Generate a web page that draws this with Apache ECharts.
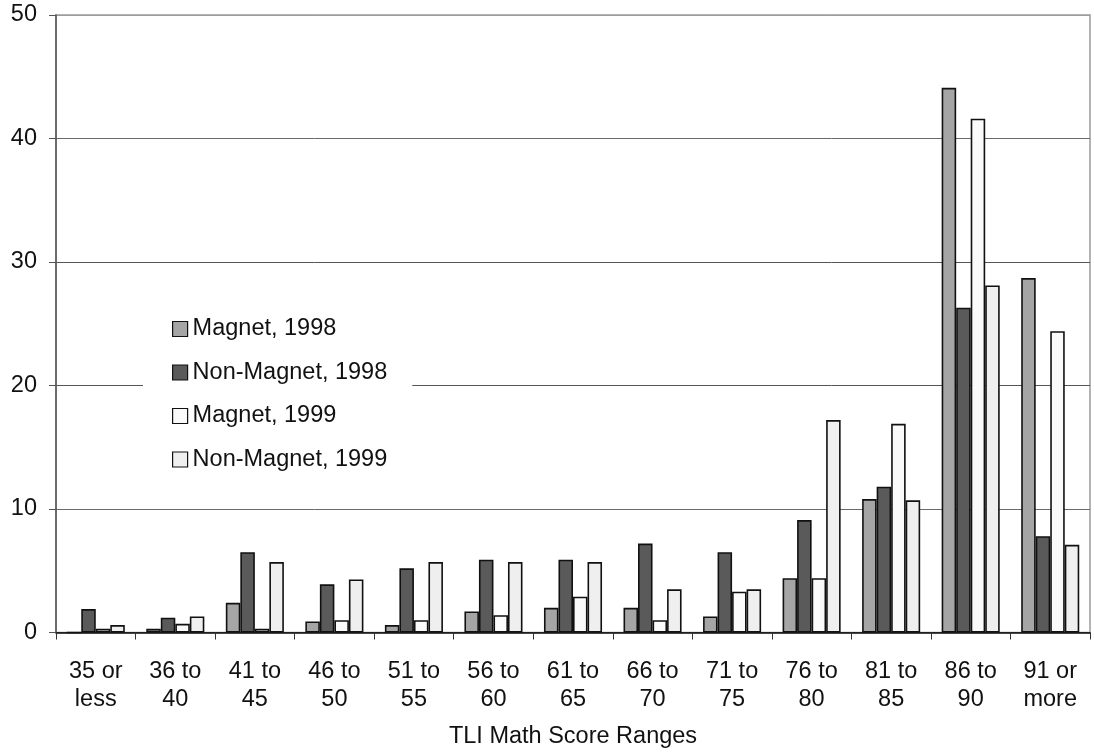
<!DOCTYPE html>
<html>
<head>
<meta charset="utf-8">
<title>TLI Math Score Ranges</title>
<script src="https://cdn.jsdelivr.net/npm/echarts@6/dist/echarts.min.js"></script>
<style>
  html, body { margin: 0; padding: 0; background: #ffffff; }
  #chart { width: 1094px; height: 755px; }
</style>
</head>
<body>
<div id="chart"></div>
<script>
// Score range categories along the x axis
const categories = [
  '35 or\nless', '36 to\n40', '41 to\n45', '46 to\n50', '51 to\n55',
  '56 to\n60', '61 to\n65', '66 to\n70', '71 to\n75', '76 to\n80',
  '81 to\n85', '86 to\n90', '91 or\nmore'
];

// Percent of students in each range
const magnet1998    = [0, 0.3, 2.4, 0.9, 0.6, 1.7, 2.0, 2.0, 1.3, 4.4, 10.8, 44.1, 28.7];
const nonMagnet1998 = [1.9, 1.2, 6.5, 3.9, 5.2, 5.9, 5.9, 7.2, 6.5, 9.1, 11.8, 26.3, 7.8];
const magnet1999    = [0.3, 0.7, 0.3, 1.0, 1.0, 1.4, 2.9, 1.0, 3.3, 4.4, 16.9, 41.6, 24.4];
const nonMagnet1999 = [0.6, 1.3, 5.7, 4.3, 5.7, 5.7, 5.7, 3.5, 3.5, 17.2, 10.7, 28.1, 7.1];

const seriesNames = ['Magnet, 1998', 'Non-Magnet, 1998', 'Magnet, 1999', 'Non-Magnet, 1999'];
const yTicks = { min: 0, max: 50, interval: 10 };

const FONT = "'Liberation Sans', Arial, Helvetica, sans-serif";
const FS = 23.5;
const fills = ['#a5a5a5', '#5a5a5a', '#fafafa', '#efefef'];
const seriesData = [magnet1998, nonMagnet1998, magnet1999, nonMagnet1999];

const chart = echarts.init(document.getElementById('chart'), null, { renderer: 'canvas' });

chart.setOption({
  animation: false,
  backgroundColor: '#ffffff',
  textStyle: { fontFamily: FONT },
  grid: {
    left: 56, right: 4, top: 15, bottom: 122.5,
    show: true, borderColor: '#9c9c9c', borderWidth: 1.5, backgroundColor: 'transparent'
  },
  legend: {
    orient: 'vertical',
    left: 143,
    top: 305,
    padding: [12, 25, 12, 29],
    backgroundColor: '#ffffff',
    itemWidth: 15,
    itemHeight: 15,
    itemGap: 19.5,
    icon: 'rect',
    textStyle: { fontFamily: FONT, fontSize: FS, lineHeight: 24, color: '#111111' },
    data: seriesNames.map((n, i) => ({
      name: n,
      itemStyle: { color: fills[i], borderColor: '#111111', borderWidth: 1.2 }
    }))
  },
  xAxis: {
    type: 'category',
    data: categories,
    name: 'TLI Math Score Ranges',
    nameLocation: 'middle',
    nameGap: 92,
    nameTextStyle: { fontFamily: FONT, fontSize: FS, color: '#111111' },
    axisLine: { lineStyle: { color: '#111111', width: 1.5 } },
    axisTick: { show: true, alignWithLabel: false, length: 7, lineStyle: { color: '#333333', width: 1 } },
    axisLabel: {
      interval: 0, margin: 25, fontFamily: FONT, fontSize: FS, lineHeight: 28, color: '#111111'
    }
  },
  yAxis: {
    type: 'value',
    min: yTicks.min, max: yTicks.max, interval: yTicks.interval,
    axisLine: { show: true, lineStyle: { color: '#555555', width: 1.5 } },
    axisTick: { show: true, length: 7, lineStyle: { color: '#555555', width: 1 } },
    axisLabel: { margin: 19, fontFamily: FONT, fontSize: FS, color: '#111111' },
    splitLine: {
      show: true,
      lineStyle: { color: ['#555555', '#6a6a6a', '#555555', '#555555', '#6a6a6a', '#9c9c9c'], width: 1 }
    }
  },
  series: seriesNames.map((n, i) => ({
    name: n,
    type: 'bar',
    data: seriesData[i],
    barGap: '0%',
    barCategoryGap: '27%',
    itemStyle: { color: fills[i], borderColor: '#111111', borderWidth: 1.6 }
  }))
});
</script>
</body>
</html>
